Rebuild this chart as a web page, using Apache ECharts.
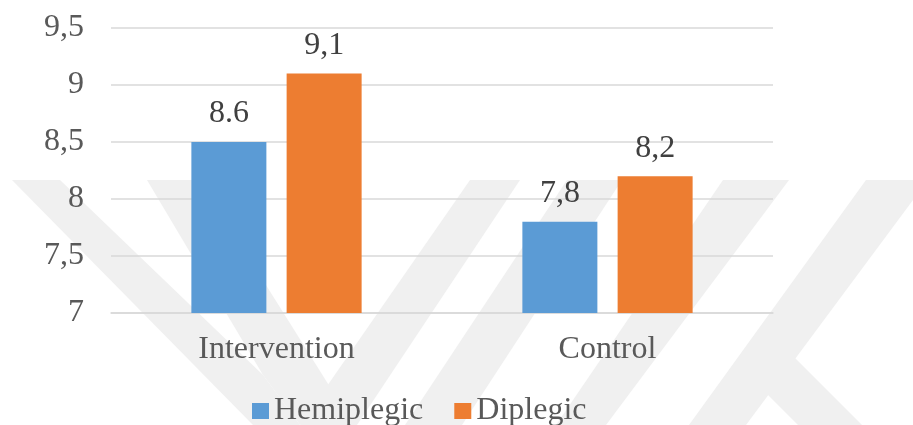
<!DOCTYPE html>
<html>
<head>
<meta charset="utf-8">
<script src="https://cdn.jsdelivr.net/npm/echarts@6/dist/echarts.min.js"></script>
<style>
html,body{margin:0;padding:0;background:#fff;}
#chart{width:913px;height:425px;}
</style>
</head>
<body>
<div id="chart"></div>
<script>
var categories = ['Intervention', 'Control'];
var seriesNames = ['Hemiplegic', 'Diplegic'];
var hemiplegicValues = [8.5, 7.8];
var diplegicValues = [9.1, 8.2];
var hemiplegicLabels = ['8.6', '7,8'];
var diplegicLabels = ['9,1', '8,2'];
var yMin = 7, yMax = 9.5, yStep = 0.5;

var FONT = '"Liberation Serif", "Times New Roman", serif';
var wmColor = '#f0f0f0';
function wm(points) {
  return { type: 'polygon', z: -10, silent: true, shape: { points: points }, style: { fill: wmColor } };
}

var chart = echarts.init(document.getElementById('chart'));
chart.setOption({
  backgroundColor: '#ffffff',
  animation: false,
  graphic: {
    elements: [
      wm([[12,180],[60,180],[263,375],[300,425],[253,425]]),
      wm([[147,180],[200,180],[335,395],[300,425],[263,375]]),
      wm([[300,425],[357,425],[520,180],[470,180]]),
      wm([[567,180],[622,180],[462,425],[405,425]]),
      wm([[723,180],[789,180],[606,425],[556,425]]),
      wm([[866,180],[913,180],[913,200],[746,425],[689,425]]),
      wm([[735,362],[767,330],[862,425],[798,425]])
    ]
  },
  grid: { left: 111, right: 140, top: 28, bottom: 112, containLabel: false },
  legend: {
    data: seriesNames,
    left: 247,
    top: 390,
    itemWidth: 17,
    itemHeight: 16,
    itemGap: 31,
    icon: 'rect',
    textStyle: { fontFamily: FONT, fontSize: 32, color: '#595959' }
  },
  xAxis: {
    type: 'category',
    data: categories,
    axisLine: { lineStyle: { color: '#d9d9d9', width: 1.5 } },
    axisTick: { show: false },
    axisLabel: { fontFamily: FONT, fontSize: 32, color: '#595959', margin: 21 }
  },
  yAxis: {
    type: 'value',
    min: yMin,
    max: yMax,
    interval: yStep,
    axisLine: { show: false },
    axisTick: { show: false },
    splitLine: { lineStyle: { color: '#d9d9d9', width: 1.5 } },
    axisLabel: {
      fontFamily: FONT, fontSize: 32, color: '#595959', margin: 27,
      formatter: function (v) { return String(v).replace('.', ','); }
    }
  },
  series: [
    {
      name: seriesNames[0],
      type: 'bar',
      data: hemiplegicValues,
      barWidth: 75,
      barGap: '27%',
      itemStyle: { color: '#5B9BD5' },
      label: {
        show: true, position: 'top', distance: 12,
        fontFamily: FONT, fontSize: 32, color: '#404040',
        formatter: function (p) { return hemiplegicLabels[p.dataIndex]; }
      }
    },
    {
      name: seriesNames[1],
      type: 'bar',
      data: diplegicValues,
      barWidth: 75,
      barGap: '27%',
      itemStyle: { color: '#ED7D31' },
      label: {
        show: true, position: 'top', distance: 12,
        fontFamily: FONT, fontSize: 32, color: '#404040',
        formatter: function (p) { return diplegicLabels[p.dataIndex]; }
      }
    }
  ]
});
</script>
</body>
</html>
